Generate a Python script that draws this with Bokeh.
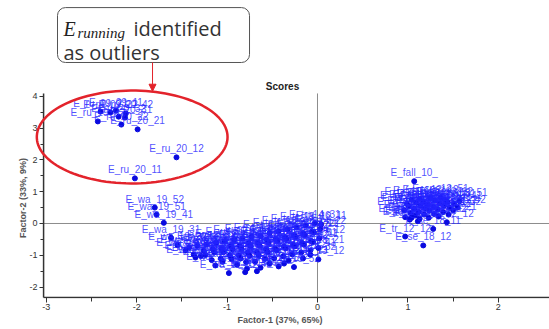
import numpy as np
from bokeh.plotting import figure
from bokeh.models import (ColumnDataSource, Label, BoxAnnotation, Arrow, NormalHead,
                          PolyAnnotation, FixedTicker, Range1d, Title)
from bokeh.core.properties import value
from bokeh.embed import file_html
from bokeh.resources import INLINE

# ---------------- data ----------------
x_ticks = [-3, -2, -1, 0, 1, 2]
x_minor = [-2.5, -1.5, -0.5, 0.5, 1.5]
y_ticks = [-2, -1, 0, 1, 2, 3, 4]
y_minor = [-1.5, -0.5, 0.5, 1.5, 2.5, 3.5]

# running outliers
run_x = [-2.43, -2.20, -2.17, -2.13, -1.99, -1.56, -2.02, -2.40, -2.29, -2.23, -2.12]
run_y = [3.21, 3.36, 3.11, 3.33, 2.96, 2.08, 1.42, 3.52, 3.49, 3.55, 3.46]
run_lab = ["E_ru_19_32", "E_ru_20_32", "E_ru_20_22", "E_ru_20_31", "E_ru_20_21", "E_ru_20_12",
           "E_ru_20_11", "E_ru_09_21", "E_ru_09_22", "E_ru_09_11", "E_ru_20_42"]

# middle cluster (walking / stairs / transitions)
mid_x = [-1.80, -1.78, -1.70, -1.62, -1.55, -1.46, -1.35,
         -1.42, -1.37,
         -1.33, -1.26, -1.29,
         -1.23, -1.16, -1.24, -1.17,
         -1.12, -1.06, -1.14, -1.07, -1.13,
         -1.03, -0.96, -1.04, -0.97, -1.05, -0.98,
         -0.92, -0.86, -0.94, -0.87, -0.95, -0.89,
         -0.83, -0.76, -0.84, -0.77, -0.85, -0.79, -0.78, -0.80,
         -0.73, -0.66, -0.74, -0.67, -0.75, -0.69, -0.67,
         -0.63, -0.56, -0.64, -0.57, -0.65, -0.58, -0.63,
         -0.53, -0.46, -0.54, -0.47, -0.55, -0.48, -0.53,
         -0.43, -0.36, -0.44, -0.37, -0.45, -0.38, -0.37, -0.43,
         -0.33, -0.26, -0.34, -0.27, -0.35, -0.28, -0.32, -0.26,
         -0.23, -0.16, -0.24, -0.17, -0.25, -0.18, -0.16,
         -0.13, -0.06, -0.14, -0.07, -0.15, -0.08, -0.08,
         -0.03, 0.03, -0.04, 0.02, -0.05, 0.01, 0.01, 0.04]
mid_y = [0.50, 0.28, 0.02, -0.45, -0.68, -0.85, -1.07,
         -0.76, -0.97,
         -0.70, -0.86, -1.02,
         -0.66, -0.81, -0.99, -1.15,
         -0.61, -0.80, -0.91, -1.10, -1.32,
         -0.57, -0.71, -0.90, -1.01, -1.20, -1.56,
         -0.51, -0.70, -0.81, -1.00, -1.12, -1.30,
         -0.47, -0.61, -0.80, -0.91, -1.10, -1.21, -1.42, -1.53,
         -0.41, -0.60, -0.71, -0.90, -1.01, -1.20, -1.50,
         -0.40, -0.51, -0.70, -0.81, -1.00, -1.11, -1.39,
         -0.30, -0.49, -0.60, -0.79, -0.90, -1.09, -1.26,
         -0.24, -0.43, -0.54, -0.73, -0.84, -1.03, -1.26, -1.35,
         -0.18, -0.37, -0.48, -0.67, -0.78, -0.97, -1.16, -1.37,
         -0.12, -0.31, -0.42, -0.61, -0.72, -0.91, -1.10,
         -0.06, -0.25, -0.36, -0.55, -0.66, -0.85, -0.98,
         0.01, -0.17, -0.28, -0.47, -0.58, -0.77, -1.13, -0.03]
mid_lab = ["E_wa_19_52", "E_wa_19_51", "E_wa_19_41", "E_wa_19_31", "E_wa_19_22", "E_wa_19_21", "E_wa_19_12",
           "E_wa_19_11", "E_wa_18_52",
           "E_wa_18_51", "E_wa_18_42", "E_wa_18_41",
           "E_wa_18_32", "E_wa_18_31", "E_wa_18_22", "E_wa_18_21",
           "E_wa_18_12", "E_wa_18_11", "E_wa_17_52", "E_wa_17_51", "E_wa_17_42",
           "E_wa_17_41", "E_wa_17_32", "E_wa_17_31", "E_wa_17_22", "E_wa_17_21", "E_wa_17_12",
           "E_wa_17_11", "E_wa_16_52", "E_wa_16_51", "E_wa_16_42", "E_wa_16_41", "E_wa_16_32",
           "E_wa_16_31", "E_wa_16_22", "E_wa_16_21", "E_wa_16_12", "E_wa_16_11", "E_st_15_52", "E_st_15_51", "E_st_15_42",
           "E_st_15_41", "E_st_15_32", "E_st_15_31", "E_st_15_22", "E_st_15_21", "E_st_15_12", "E_st_15_11",
           "E_st_14_52", "E_st_14_51", "E_st_14_42", "E_st_14_41", "E_st_14_32", "E_st_14_31", "E_st_14_22",
           "E_st_14_21", "E_st_14_12", "E_st_14_11", "E_tr_17_52", "E_tr_17_51", "E_tr_17_42", "E_tr_17_41",
           "E_tr_17_32", "E_tr_17_31", "E_tr_17_22", "E_tr_17_21", "E_tr_17_12", "E_tr_17_11", "E_tr_16_52", "E_tr_16_51",
           "E_tr_16_42", "E_tr_16_41", "E_tr_16_32", "E_tr_16_31", "E_tr_16_22", "E_tr_16_21", "E_tr_16_12", "E_tr_15_52",
           "E_tr_15_51", "E_tr_15_42", "E_tr_15_41", "E_tr_15_32", "E_tr_15_31", "E_tr_15_22", "E_tr_15_21",
           "E_tr_15_12", "E_tr_15_11", "E_tr_14_52", "E_tr_14_51", "E_tr_14_42", "E_tr_14_41", "E_tr_14_32",
           "E_tr_14_31", "E_tr_14_22", "E_tr_14_21", "E_tr_14_12", "E_tr_14_11", "E_tr_13_21", "E_tr_13_12", "E_tr_16_11"]

# right cluster (falls / sitting)
right_x = [1.07, 0.97, 1.17, 1.28, 1.11, 1.43, 1.04,
           0.97, 0.96, 0.99, 1.02, 1.03, 1.01, 1.04, 1.08, 1.07, 1.09,
           1.13, 1.12, 1.14, 1.13, 1.18, 1.19, 1.17, 1.23, 1.24, 1.22, 1.25,
           1.29, 1.28, 1.30, 1.34, 1.33, 1.35, 1.36, 1.39, 1.40, 1.41,
           1.45, 1.46, 1.44, 1.50, 1.51, 1.55, 1.57]
right_y = [1.33, -0.41, -0.69, -0.17, 0.07, 0.04, 0.18,
           0.20, 0.42, 0.62, 0.12, 0.33, 0.54, 0.75, 0.25, 0.46, 0.66,
           0.15, 0.36, 0.56, 0.78, 0.28, 0.48, 0.68, 0.18, 0.40, 0.60, 0.80,
           0.30, 0.52, 0.72, 0.22, 0.44, 0.64, 0.82, 0.36, 0.56, 0.74,
           0.28, 0.50, 0.68, 0.42, 0.62, 0.50, 0.70]
right_lab = ["E_fall_10_", "E_tr_12_12", "E_se_18_12", "E_se_18_11", "E_tr_12_11", "E_fa_12_12", "E_fa_11_21",
             "E_fa_10_11", "E_fa_10_12", "E_fa_10_21", "E_fa_10_22", "E_fa_10_31", "E_fa_10_32", "E_fa_10_41",
             "E_fa_10_42", "E_fa_10_51", "E_fa_10_52",
             "E_fa_11_11", "E_fa_11_12", "E_fa_11_22", "E_fa_11_31", "E_fa_11_32", "E_fa_11_41", "E_fa_11_42",
             "E_fa_11_51", "E_fa_11_52", "E_sp_12_11", "E_sp_12_12",
             "E_sp_12_21", "E_sp_12_22", "E_sp_12_31", "E_sp_12_32", "E_sp_12_41", "E_sp_12_42", "E_sp_12_51",
             "E_sp_12_52", "E_sp_13_11", "E_sp_13_12",
             "E_sp_13_21", "E_sp_13_22", "E_sp_13_31", "E_sp_13_32", "E_sp_13_41", "E_sp_13_42", "E_sp_13_51"]

all_x = run_x + mid_x + right_x
all_y = run_y + mid_y + right_y
all_lab = run_lab + mid_lab + right_lab
n = min(len(all_x), len(all_y), len(all_lab))
src = ColumnDataSource(dict(x=all_x[:n], y=all_y[:n], label=all_lab[:n]))

# axis geometry in data units
X_AXIS_AT = -3.03     # where the vertical axis line sits
Y_BOTTOM = -2.327     # where the horizontal axis line sits
Y_TOP = 4.09          # top end of the vertical axis line
X_END = 2.5664

# ---------------- figure ----------------
p = figure(width=549, height=329, output_backend="svg", toolbar_location=None,
           x_range=Range1d(-3.5066, X_END), y_range=Range1d(-2.3585, 7.0126),
           min_border_left=0, min_border_right=0, min_border_top=0, min_border_bottom=31)
p.outline_line_color = None
p.xgrid.grid_line_color = None
p.ygrid.grid_line_color = None
p.background_fill_color = "white"

for ax, ticks, minor in ((p.xaxis[0], x_ticks, x_minor), (p.yaxis[0], y_ticks, y_minor)):
    ax.ticker = FixedTicker(ticks=ticks, minor_ticks=minor)
    ax.major_label_overrides = {t: str(t) for t in ticks}
    ax.axis_line_color = None
    ax.major_tick_line_color = "#333333"
    ax.minor_tick_line_color = "#333333"
    ax.major_label_text_font = "Liberation Sans"
    ax.major_label_text_font_size = "9px"
    ax.major_label_text_color = "#333333"

xa = p.xaxis[0]
xa.major_tick_in = 1
xa.major_tick_out = 4
xa.minor_tick_in = 1
xa.minor_tick_out = 3
xa.major_label_standoff = 1

# vertical axis sits at the frame edge; its ticks and labels are shifted to the drawn axis line
ya = p.yaxis[0]
ya.major_tick_in = 43
ya.major_tick_out = -39
ya.minor_tick_in = 43
ya.minor_tick_out = -40
ya.major_label_standoff = 2

p.add_layout(Title(text="Factor-1 (37%, 65%)", align="left", offset=237, standoff=0,
                   text_font="Liberation Sans", text_font_size="9px", text_font_style="bold",
                   text_color="#555555"), "below")

# y axis title
p.add_layout(Label(x=-3.263, y=0.80, text="Factor-2 (33%, 9%)", angle=np.pi / 2,
                   text_align="center", text_baseline="middle", text_font="Liberation Sans",
                   text_font_size="9px", text_font_style="bold", text_color="#555555"))

# zero lines
p.segment(x0=X_AXIS_AT, y0=0, x1=X_END, y1=0, line_color="#8c8c8c", line_width=1)
p.segment(x0=0, y0=Y_BOTTOM, x1=0, y1=Y_TOP, line_color="#8c8c8c", line_width=1)

# points and their labels
p.scatter(x="x", y="y", source=src, size=5, color="#0a0ae0")
p.text(x="x", y="y", text="label", source=src, text_font=value("Liberation Sans"),
       text_font_size=value("10px"), text_align="center", text_baseline="bottom",
       y_offset=-3, text_color="#2323ff", text_alpha=0.8)

# axis lines
p.segment(x0=X_AXIS_AT, y0=Y_BOTTOM, x1=X_AXIS_AT, y1=Y_TOP, line_color="#333333", line_width=1.5)
p.segment(x0=X_AXIS_AT, y0=Y_BOTTOM, x1=X_END, y1=Y_BOTTOM, line_color="#333333", line_width=1.5)

# title
p.add_layout(Label(x=-0.387, y=4.31, text="Scores", text_align="center", text_baseline="middle",
                   text_font="Liberation Sans", text_font_size="10px", text_font_style="bold",
                   text_color="#222222"))

# red ellipse around the outliers
t = np.linspace(0, 2 * np.pi, 120)
ell_cx, ell_cy, ell_a, ell_b = -2.05, 2.72, 1.055, 1.46
p.add_layout(PolyAnnotation(xs=list(ell_cx + ell_a * np.cos(t)), ys=list(ell_cy + ell_b * np.sin(t)),
                            fill_color=None, fill_alpha=0, line_color="#e3232b", line_alpha=1,
                            line_width=2.5))

# callout box
p.add_layout(BoxAnnotation(left=-2.876, right=-0.752, bottom=5.063, top=6.79,
                           fill_color="white", fill_alpha=1, line_color="#555555", line_alpha=1,
                           line_width=1, border_radius=8))
p.add_layout(Arrow(end=NormalHead(size=7, fill_color="#e3232b", line_color="#e3232b"),
                   x_start=-1.825, y_start=5.063, x_end=-1.825, y_end=4.16,
                   line_color="#e3232b", line_width=1))
p.add_layout(Label(x=-2.81, y=6.13, text="E", text_align="left", text_baseline="alphabetic",
                   text_font="Liberation Serif", text_font_style="italic", text_font_size="20px",
                   text_color="#222222"))
p.add_layout(Label(x=-2.655, y=6.0, text="running", text_align="left", text_baseline="alphabetic",
                   text_font="Liberation Serif", text_font_style="italic", text_font_size="15px",
                   text_color="#222222"))
p.add_layout(Label(x=-2.035, y=6.13, text="identified", text_align="left", text_baseline="alphabetic",
                   text_font="Open Sans", text_font_size="20px", text_color="#333333"))
p.add_layout(Label(x=-2.81, y=5.38, text="as outliers", text_align="left", text_baseline="alphabetic",
                   text_font="Open Sans", text_font_size="20px", text_color="#333333"))

open("out.html", "w").write(file_html(p, INLINE))
